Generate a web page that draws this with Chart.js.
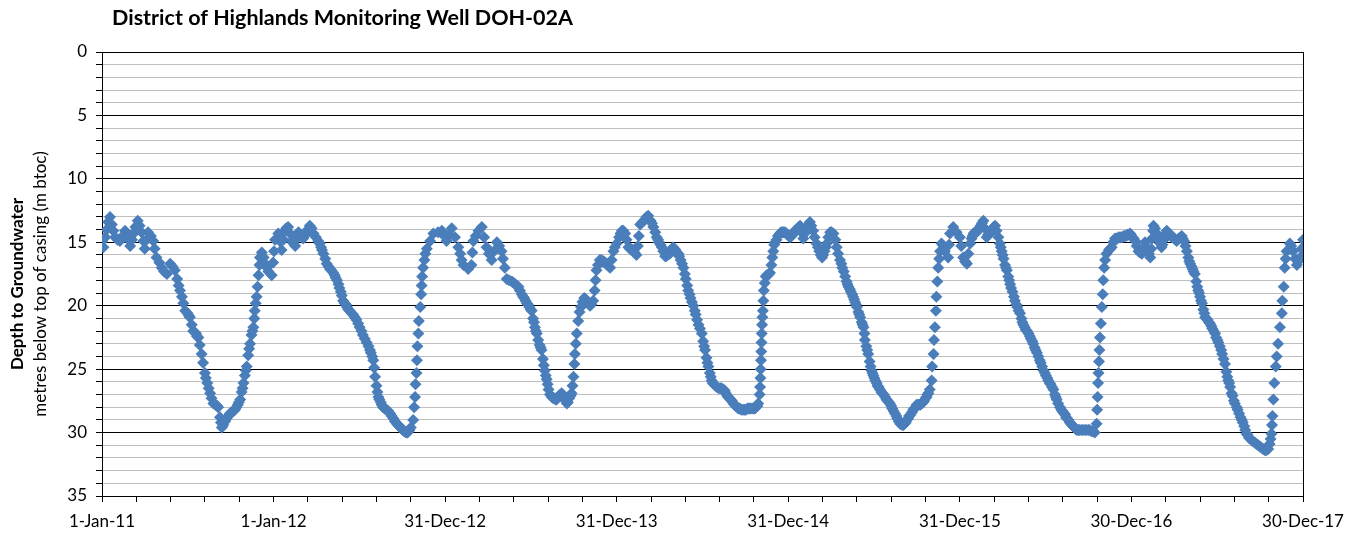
<!DOCTYPE html>
<html><head><meta charset="utf-8">
<script src="https://cdn.jsdelivr.net/npm/chart.js@4.4.1/dist/chart.umd.min.js"></script>
<style>html,body{margin:0;padding:0;background:#fff;} #wrap{width:1362px;height:534px;}</style>
</head><body><div id="wrap"><canvas id="c" width="1362" height="534"></canvas></div>
<script>
const chartTitle = 'District of Highlands Monitoring Well DOH-02A';
const yTitleMain = 'Depth to Groundwater';
const yTitleSub = 'metres below top of casing (m btoc)';
const xTickLabels = ['1-Jan-11','1-Jan-12','31-Dec-12','31-Dec-13','31-Dec-14','31-Dec-15','30-Dec-16','30-Dec-17'];
const xTickDays = [0,365,730,1095,1460,1825,2190,2555];
const yTickValues = [0,5,10,15,20,25,30,35];

// Readings: [days since 1-Jan-11, depth to groundwater (m btoc)]
const seg2011 = [[0,14.9],[3,15.4],[7,14.6],[10,14.0],[13,13.4],[17,13.0],[21,13.6],[24,14.1],[28,14.6],[33,14.8],[38,14.9],[44,14.5],[49,14.1],[54,14.7],[60,15.3],[64,14.8],[67,14.3],[71,13.8],[76,13.3],[80,13.7],[84,14.2],[88,14.9],[91,15.5],[95,14.8],[98,14.2],[104,14.5],[109,14.9],[112,15.5],[116,16.2],[122,16.6],[127,17.0],[132,17.3],[138,17.5],[145,16.7],[150,16.9],[155,17.2],[160,17.9],[163,18.4],[166,18.8],[170,19.3],[173,19.8],[177,20.4],[182,20.6],[185,20.8],[187,20.9],[191,21.5],[194,22.0],[197,22.1],[200,22.2],[202,22.4],[205,22.5],[208,23.1],[212,23.8],[215,24.5],[219,25.3],[221,25.7],[224,26.1],[227,26.5],[230,26.9],[233,27.3],[237,27.7],[242,27.8],[245,27.9],[247,28.0],[251,28.8],[253,29.2],[255,29.6],[258,29.4],[262,29.1],[265,28.9],[269,28.7],[272,28.5],[276,28.4],[280,28.3],[283,28.2],[286,28.0],[289,27.8],[291,27.6],[294,27.4],[297,26.8],[299,26.5],[301,26.1],[304,25.5],[306,25.1],[308,24.8],[311,23.9],[313,23.4],[315,23.0],[318,22.3],[320,22.0],[322,21.7],[324,21.0],[325,20.4],[327,19.8],[329,19.3],[331,18.5],[333,17.6],[335,16.8],[336,16.2],[340,15.8],[344,16.2],[347,16.7],[351,17.0],[354,17.3],[361,17.6],[364,16.6]];
const seg2012 = [[366,15.7],[368,14.8],[375,14.3],[378,14.9],[382,15.6],[386,14.8],[389,14.1],[392,13.9],[396,13.8],[400,14.3],[404,14.9],[407,15.1],[411,15.3],[414,14.7],[418,14.2],[423,14.4],[428,14.7],[431,14.5],[435,14.2],[438,14.0],[442,13.7],[446,13.9],[450,14.3],[455,14.6],[460,14.9],[463,15.1],[466,15.4],[468,15.6],[471,15.9],[475,16.3],[478,16.7],[482,16.9],[485,17.1],[488,17.2],[492,17.4],[495,17.6],[497,17.8],[500,18.0],[503,18.3],[505,18.6],[508,18.9],[510,19.2],[513,19.6],[516,19.8],[519,19.9],[521,20.1],[524,20.3],[527,20.4],[531,20.6],[534,20.7],[538,20.9],[541,21.1],[545,21.4],[548,21.7],[552,22.0],[555,22.3],[559,22.6],[563,22.9],[567,23.2],[570,23.5],[572,23.7],[575,24.0],[577,24.3],[579,24.9],[581,25.6],[584,26.3],[586,26.8],[588,27.2],[590,27.4],[593,27.6],[595,27.8],[598,28.0],[601,28.1],[605,28.2],[609,28.3],[613,28.5],[616,28.7],[620,28.9],[623,29.1],[627,29.3],[630,29.4],[632,29.5],[635,29.6],[638,29.7],[640,29.8],[643,29.9],[645,29.95],[648,30.0],[650,30.0],[652,29.9],[654,29.8],[657,29.6],[662,29.0],[664,28.0],[666,27.2],[667,26.2],[669,25.3],[670,24.3],[671,23.2],[673,22.2],[674,21.2],[677,20.1],[679,19.1],[680,18.4],[681,17.7],[683,17.0],[686,16.4],[688,15.9],[691,15.5],[698,14.9],[705,14.3],[715,14.2],[723,14.1],[728,14.5]];
const seg2013 = [[733,14.9],[738,14.4],[744,13.9],[751,14.6],[758,15.4],[762,15.9],[765,16.4],[769,16.8],[779,17.1],[786,16.8],[788,15.8],[790,14.9],[795,14.5],[801,14.1],[808,13.8],[813,14.6],[818,15.4],[823,15.9],[829,16.4],[834,15.7],[840,15.0],[845,15.3],[850,15.7],[853,16.3],[857,17.0],[861,17.9],[866,18.0],[872,18.1],[876,18.2],[879,18.3],[882,18.4],[886,18.5],[889,18.8],[893,19.1],[896,19.3],[898,19.4],[901,19.6],[904,19.8],[906,19.9],[909,20.1],[912,20.3],[914,20.4],[917,21.0],[919,21.3],[921,21.7],[923,22.0],[925,22.2],[928,22.7],[931,23.1],[933,23.3],[935,23.5],[938,24.2],[940,24.7],[942,25.1],[944,25.5],[946,25.8],[948,26.2],[950,26.6],[953,27.0],[957,27.2],[960,27.3],[962,27.3],[965,27.4],[967,27.4],[970,27.2],[972,27.1],[975,27.0],[978,26.9],[981,27.1],[983,27.3],[986,27.5],[989,27.7],[991,27.6],[994,27.3],[997,27.1],[999,26.9],[1001,26.3],[1003,25.6],[1005,24.6],[1006,23.8],[1008,23.0],[1010,22.2],[1013,21.2],[1016,20.5],[1019,20.1],[1022,19.7],[1026,19.4],[1029,19.5],[1032,19.6],[1035,19.8],[1038,20.0],[1041,19.9],[1045,19.6],[1048,18.8],[1050,18.0],[1052,17.2],[1055,16.8],[1059,16.4],[1062,16.4],[1064,16.5],[1067,16.5],[1070,16.6],[1073,16.7],[1075,16.8],[1078,16.9],[1081,17.0],[1084,16.4],[1088,15.7],[1091,15.4]];
const seg2014 = [[1095,15.1],[1100,14.6],[1103,14.3],[1106,14.1],[1109,14.1],[1113,14.3],[1116,14.8],[1120,15.4],[1123,15.5],[1125,15.5],[1128,15.6],[1130,15.7],[1133,15.8],[1137,16.0],[1140,15.3],[1142,14.5],[1145,13.6],[1150,13.4],[1155,13.2],[1158,13.0],[1162,12.9],[1167,13.3],[1170,13.5],[1173,13.8],[1177,14.2],[1180,14.6],[1183,14.8],[1185,15.0],[1188,15.2],[1191,15.4],[1194,15.7],[1198,16.1],[1200,16.1],[1203,16.0],[1206,15.9],[1208,15.9],[1211,15.6],[1215,15.4],[1218,15.5],[1220,15.6],[1223,15.8],[1226,15.9],[1228,16.1],[1231,16.4],[1234,16.7],[1237,17.0],[1240,17.5],[1242,17.9],[1245,18.4],[1247,18.8],[1250,19.1],[1252,19.4],[1255,19.7],[1258,20.0],[1261,20.4],[1263,20.7],[1266,21.1],[1269,21.5],[1272,21.8],[1276,22.2],[1279,22.8],[1281,23.2],[1283,23.5],[1286,24.1],[1288,24.5],[1290,24.8],[1293,25.3],[1295,25.6],[1297,25.9],[1299,26.1],[1302,26.2],[1305,26.3],[1308,26.4],[1312,26.5],[1315,26.5],[1318,26.5],[1322,26.6],[1325,26.7],[1327,26.9],[1330,27.1],[1332,27.2],[1335,27.3],[1337,27.4],[1340,27.5],[1343,27.7],[1346,27.8],[1348,27.9],[1351,28.0],[1354,28.1],[1357,28.1],[1360,28.2],[1364,28.2],[1367,28.2],[1370,28.2],[1373,28.1],[1375,28.1],[1378,28.1],[1380,28.1],[1383,28.1],[1386,28.1],[1389,28.1],[1391,28.0],[1394,27.9],[1396,27.7],[1399,27.0],[1400,26.4],[1400.7,25.7],[1401.3,25.0],[1402,24.3],[1402.5,23.6],[1403,22.9],[1403.5,22.2],[1404.2,21.5],[1405,20.9],[1406,20.4],[1407,19.6],[1408,18.8],[1410,18.2],[1412,17.7],[1414,17.6],[1416,17.6],[1419,17.5],[1421,17.4],[1424,16.8],[1426,16.2],[1428,15.7],[1430,15.2],[1432,15.0],[1435,14.8],[1438,14.5],[1442,14.3],[1445,14.2],[1447,14.2],[1450,14.2],[1453,14.2],[1456,14.3],[1458,14.4]];
const seg2015 = [[1461,14.5],[1464,14.6],[1467,14.5],[1469,14.4],[1472,14.2],[1474,14.1],[1477,14.0],[1480,13.9],[1483,13.8],[1485,13.7],[1488,14.2],[1492,14.7],[1495,14.3],[1499,13.8],[1503,13.6],[1506,13.4],[1509,13.7],[1513,14.1],[1516,14.6],[1520,15.1],[1523,15.4],[1526,15.7],[1529,16.0],[1532,16.2],[1534,16.0],[1537,15.7],[1540,15.4],[1542,15.1],[1545,14.6],[1549,14.2],[1552,14.2],[1556,14.3],[1560,14.8],[1563,15.4],[1566,15.9],[1570,16.4],[1573,16.7],[1575,17.0],[1578,17.3],[1581,17.7],[1584,18.1],[1586,18.3],[1588,18.5],[1591,18.7],[1593,18.9],[1596,19.1],[1598,19.3],[1600,19.5],[1602,19.7],[1604,19.9],[1606,20.1],[1609,20.5],[1611,20.7],[1613,20.9],[1616,21.3],[1618,21.5],[1620,21.7],[1622,22.2],[1623,22.7],[1626,23.2],[1628,23.5],[1630,23.8],[1633,24.4],[1635,24.8],[1637,25.1],[1639,25.3],[1641,25.5],[1643,25.7],[1645,25.9],[1648,26.1],[1650,26.3],[1652,26.4],[1655,26.6],[1658,26.8],[1660,26.9],[1663,27.0],[1666,27.2],[1669,27.4],[1671,27.5],[1674,27.6],[1676,27.7],[1679,27.9],[1681,28.1],[1684,28.3],[1687,28.5],[1690,28.7],[1692,28.9],[1695,29.1],[1698,29.3],[1700,29.35],[1703,29.4],[1705,29.4],[1707,29.3],[1710,29.2],[1712,29.0],[1715,28.9],[1717,28.7],[1720,28.6],[1723,28.4],[1726,28.2],[1728,28.1],[1731,28.0],[1733,27.8],[1736,27.8],[1738,27.8],[1741,27.8],[1744,27.7],[1747,27.6],[1749,27.5],[1752,27.3],[1754,27.2],[1756,27.0],[1758,26.9],[1761,26.6],[1765,25.9],[1766,24.8],[1769,23.8],[1770,22.7],[1772,21.7],[1774,20.4],[1775,19.3],[1777,18.1],[1779,17.0],[1781,16.3],[1783,15.7],[1786,15.1],[1790,15.3],[1793,15.7],[1800,16.2],[1802,15.2],[1804,14.3],[1811,13.8],[1818,14.2]];
const seg2016 = [[1825,14.6],[1828,15.3],[1832,16.2],[1836,16.5],[1838,16.6],[1840,16.7],[1843,15.9],[1847,15.1],[1850,14.7],[1852,14.5],[1854,14.3],[1857,14.2],[1859,14.2],[1862,14.1],[1864,14.1],[1867,13.9],[1869,13.7],[1872,13.5],[1875,13.3],[1878,13.9],[1882,14.6],[1885,14.4],[1889,14.3],[1892,14.1],[1894,14.0],[1897,13.8],[1900,13.7],[1903,14.1],[1907,14.6],[1910,15.1],[1912,15.4],[1914,15.7],[1916,16.0],[1918,16.3],[1921,16.8],[1923,17.0],[1925,17.2],[1928,17.7],[1930,18.0],[1932,18.3],[1934,18.6],[1937,18.9],[1940,19.3],[1942,19.6],[1945,19.9],[1947,20.1],[1950,20.4],[1953,20.6],[1956,21.0],[1958,21.3],[1960,21.5],[1963,21.7],[1965,21.9],[1968,22.0],[1971,22.2],[1974,22.4],[1976,22.6],[1979,22.8],[1981,23.0],[1984,23.3],[1986,23.5],[1989,23.7],[1992,24.0],[1995,24.3],[1997,24.5],[2000,24.8],[2003,25.1],[2006,25.3],[2008,25.5],[2011,25.7],[2013,25.9],[2016,26.1],[2018,26.2],[2021,26.4],[2024,26.6],[2027,27.0],[2029,27.2],[2031,27.4],[2034,27.7],[2038,28.0],[2041,28.2],[2043,28.3],[2045,28.4],[2047,28.5],[2049,28.6],[2051,28.8],[2053,28.9],[2056,29.0],[2059,29.2],[2061,29.3],[2064,29.4],[2066,29.5],[2069,29.6],[2071,29.7],[2074,29.8],[2077,29.8],[2080,29.8],[2084,29.8],[2087,29.8],[2091,29.8],[2094,29.8],[2098,29.8],[2101,29.8],[2105,29.9],[2108,29.9],[2112,30.0],[2116,29.3],[2117,28.2],[2118,27.2],[2119,26.1],[2120,25.3],[2121,24.4],[2122,23.5],[2123,22.5],[2125,21.4],[2127,20.1],[2129,19.1],[2130,18.0],[2132,17.0],[2134,16.4],[2137,15.9],[2142,15.6],[2145,15.5],[2148,15.4],[2151,15.0],[2155,14.7],[2158,14.7],[2160,14.7],[2163,14.6],[2166,14.6],[2169,14.6],[2171,14.6],[2174,14.5],[2176,14.5],[2179,14.5],[2181,14.4],[2184,14.4],[2187,14.3],[2189,14.4]];
const seg2017 = [[2192,14.6],[2195,14.7],[2198,14.9],[2201,15.3],[2205,15.7],[2208,15.8],[2212,15.9],[2216,15.5],[2219,15.0],[2224,15.5],[2227,15.9],[2230,16.2],[2232,15.5],[2234,14.7],[2236,14.1],[2237,13.7],[2240,13.9],[2244,14.3],[2246,14.6],[2249,14.9],[2251,15.1],[2254,15.4],[2256,15.2],[2259,14.8],[2262,14.4],[2265,14.1],[2267,14.2],[2270,14.3],[2273,14.4],[2276,14.6],[2279,14.6],[2281,14.7],[2284,14.8],[2286,14.9],[2289,14.8],[2291,14.7],[2294,14.6],[2297,14.5],[2299,14.7],[2302,14.9],[2305,15.3],[2308,15.7],[2311,16.2],[2313,16.5],[2315,16.7],[2318,16.9],[2320,17.1],[2322,17.3],[2325,17.5],[2328,18.1],[2330,18.5],[2332,18.8],[2334,19.0],[2336,19.3],[2338,19.6],[2340,19.8],[2343,20.3],[2345,20.6],[2347,20.9],[2349,21.0],[2352,21.1],[2355,21.3],[2357,21.4],[2360,21.6],[2362,21.8],[2365,22.0],[2368,22.2],[2370,22.5],[2373,22.7],[2375,22.9],[2378,23.2],[2381,23.5],[2383,23.8],[2386,24.2],[2389,24.6],[2392,25.2],[2394,25.6],[2396,25.9],[2398,26.1],[2400,26.4],[2403,26.9],[2405,27.1],[2408,27.5],[2410,27.7],[2414,28.0],[2416,28.2],[2419,28.5],[2422,28.8],[2425,29.0],[2427,29.2],[2430,29.5],[2432,29.8],[2435,30.1],[2437,30.2],[2440,30.4],[2443,30.5],[2446,30.6],[2449,30.7],[2453,30.8],[2456,30.9],[2460,31.0],[2463,31.1],[2467,31.2],[2470,31.3],[2474,31.4],[2477,31.4],[2481,31.3],[2484,30.9],[2486,30.5],[2488,30.1],[2489,29.4],[2490,28.7],[2492,27.4],[2494,26.1],[2497,24.8],[2499,24.0],[2502,23.0],[2506,21.7],[2510,20.6],[2511,19.6],[2514,18.5],[2516,17.0],[2518,16.3],[2520,15.7],[2527,15.1],[2530,15.3],[2534,15.7],[2538,16.3],[2542,16.8],[2545,16.5],[2549,16.2],[2552,15.5],[2555,14.8]];

const readings = [].concat(seg2011, seg2012, seg2013, seg2014, seg2015, seg2016, seg2017)
  .map(([d, v]) => ({x: d, y: v}));

const FONT = 'Lato';

const decor = {
  id: 'decor',
  afterDraw(chart) {
    const {ctx, chartArea} = chart;
    ctx.save();
    // right border of plot area
    ctx.strokeStyle = '#000';
    ctx.lineWidth = 1;
    ctx.beginPath();
    ctx.moveTo(Math.round(chartArea.right) + 0.5, chartArea.top);
    ctx.lineTo(Math.round(chartArea.right) + 0.5, chartArea.bottom);
    ctx.stroke();
    // chart title
    ctx.fillStyle = '#000';
    ctx.font = 'bold 21.5px ' + FONT;
    ctx.textAlign = 'left';
    ctx.textBaseline = 'middle';
    ctx.fillText(chartTitle, 112, 18);
    // y axis title (two lines)
    const cy = 284;
    ctx.translate(18, cy);
    ctx.rotate(-Math.PI / 2);
    ctx.textAlign = 'center';
    ctx.font = 'bold 17px ' + FONT;
    ctx.fillText(yTitleMain, 0, 0);
    ctx.font = '17px ' + FONT;
    ctx.fillText(yTitleSub, 0, 23);
    ctx.restore();
  }
};

function build() {
  new Chart(document.getElementById('c'), {
    type: 'scatter',
    data: {
      datasets: [{
        data: readings,
        pointStyle: 'rectRot',
        pointRadius: 6,
        pointHoverRadius: 6,
        borderWidth: 0,
        backgroundColor: '#4a7ebb',
        borderColor: '#4a7ebb',
        showLine: false
      }]
    },
    options: {
      responsive: false,
      devicePixelRatio: 1,
      animation: false,
      events: [],
      layout: {padding: {top: 52, right: 59, left: 0, bottom: 0}},
      plugins: {legend: {display: false}, tooltip: {enabled: false}, title: {display: false}},
      scales: {
        x: {
          type: 'linear', min: 0, max: 2555,
          afterFit(s) { s.height = 38; },
          border: {display: true, color: '#000', width: 1},
          grid: {drawOnChartArea: false, drawTicks: true, tickLength: 6, tickColor: '#000', tickWidth: 1},
          ticks: {
            stepSize: 73, autoSkip: false, maxRotation: 0, minRotation: 0, padding: 9,
            color: '#000', font: {family: FONT, size: 17},
            callback: (v) => { const i = xTickDays.indexOf(Math.round(v)); return i >= 0 ? xTickLabels[i] : ''; }
          }
        },
        y: {
          type: 'linear', reverse: true, min: 0, max: 35,
          afterFit(s) { s.width = 102; },
          border: {display: true, color: '#000', width: 1},
          grid: {
            color: (c) => (c.tick && yTickValues.includes(Math.round(c.tick.value))) ? '#000' : '#bfbfbf',
            lineWidth: 1, drawTicks: true, tickLength: 6, tickColor: '#000', tickWidth: 1
          },
          ticks: {
            stepSize: 1, autoSkip: false, padding: 9,
            color: '#000', font: {family: FONT, size: 17},
            callback: (v) => yTickValues.includes(Math.round(v)) ? String(Math.round(v)) : ''
          }
        }
      }
    },
    plugins: [decor]
  });
}

if (document.fonts && document.fonts.load) {
  Promise.all([document.fonts.load('16px Lato'), document.fonts.load('bold 16px Lato')]).then(build, build);
} else { build(); }
</script>
</body></html>
